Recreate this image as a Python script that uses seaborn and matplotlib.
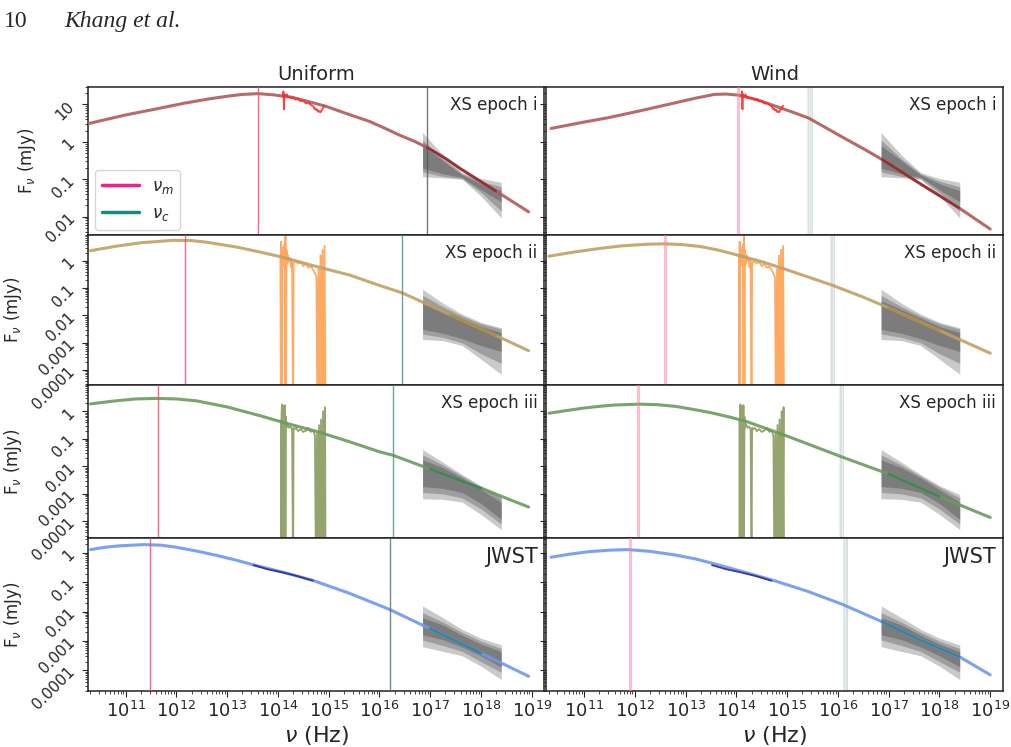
import numpy as np
import matplotlib.pyplot as plt
import seaborn as sns
from matplotlib.lines import Line2D
from matplotlib.ticker import FixedLocator, FixedFormatter, LogLocator, NullFormatter

sns.set_style('ticks')

# values: log10(nu / Hz), log10(F_nu / mJy)

# model SEDs, uniform (ISM) density
uniform_i_nu = [10.27, 11.0, 11.6, 12.14, 12.6, 13.0, 13.3, 13.61, 13.9, 14.29, 14.6, 14.95, 15.41, 15.8,
                16.1, 16.4, 16.7, 16.94, 17.3, 17.6, 18.29, 18.94]
uniform_i_flux = [0.49, 0.72, 0.88, 1.03, 1.14, 1.22, 1.27, 1.29, 1.26, 1.19, 1.08, 0.95, 0.73, 0.55,
                  0.37, 0.18, 0.01, -0.15, -0.44, -0.72, -1.31, -1.87]
uniform_ii_nu = [10.31, 10.8, 11.3, 11.94, 12.3, 12.6, 13.2, 13.65, 14.1, 14.7, 15.41, 16.0, 16.46, 17.4, 18.29, 18.94]
uniform_ii_flux = [0.37, 0.53, 0.66, 0.75, 0.74, 0.68, 0.5, 0.32, 0.13, -0.18, -0.52, -0.9, -1.18, -1.98, -2.73, -3.29]
uniform_iii_nu = [10.31, 10.8, 11.2, 11.62, 12.0, 12.4, 13.0, 13.65, 14.1, 14.8, 15.4, 16.0, 16.27, 17.0, 18.0, 18.94]
uniform_iii_flux = [0.27, 0.38, 0.45, 0.47, 0.45, 0.38, 0.16, -0.16, -0.4, -0.75, -1.1, -1.47, -1.6, -2.1, -2.8, -3.48]
uniform_jwst_nu = [10.31, 10.6, 10.9, 11.36, 11.7, 12.0, 12.4, 12.8, 13.2, 13.52, 14.1, 14.69, 15.41, 16.2,
                   17.0, 18.0, 18.94]
uniform_jwst_flux = [0.12, 0.2, 0.25, 0.29, 0.27, 0.2, 0.07, -0.08, -0.25, -0.4, -0.65, -0.93, -1.37, -1.92,
                     -2.58, -3.41, -4.2]

# model SEDs, wind density profile
wind_i_nu = [10.35, 11.0, 11.47, 12.1, 12.78, 13.2, 13.57, 13.8, 14.04, 14.4, 14.76, 15.1, 15.42, 15.8,
             16.1, 16.5, 16.87, 17.6, 18.38, 19.0]
wind_i_flux = [0.36, 0.53, 0.645, 0.83, 1.04, 1.17, 1.27, 1.28, 1.25, 1.13, 0.96, 0.8, 0.64, 0.35,
               0.12, -0.18, -0.47, -1.1, -1.76, -2.33]
wind_ii_nu = [10.31, 10.8, 11.3, 11.7, 12.0, 12.3, 12.6, 12.95, 13.3, 13.65, 14.0, 14.5, 15.0, 15.9,
              16.5, 17.0, 18.0, 19.0]
wind_ii_flux = [0.17, 0.32, 0.45, 0.54, 0.58, 0.61, 0.62, 0.59, 0.52, 0.39, 0.22, -0.03, -0.33, -0.9,
                -1.33, -1.72, -2.55, -3.38]
wind_iii_nu = [10.31, 10.7, 11.0, 11.3, 11.6, 12.1, 12.45, 12.8, 13.15, 13.5, 13.85, 14.2, 15.0, 16.08,
               17.0, 18.0, 19.0]
wind_iii_flux = [-0.07, 0.04, 0.12, 0.18, 0.23, 0.26, 0.24, 0.18, 0.07, -0.05, -0.2, -0.37, -0.9, -1.66,
                 -2.28, -3.1, -3.86]
wind_jwst_nu = [10.35, 10.7, 11.1, 11.5, 11.86, 12.3, 12.78, 13.2, 13.58, 14.1, 14.73, 15.4, 16.08,
                16.87, 17.6, 18.39, 19.0]
wind_jwst_flux = [-0.14, -0.04, 0.05, 0.1, 0.12, 0.06, -0.06, -0.2, -0.37, -0.62, -0.93, -1.3, -1.74,
                  -2.34, -2.95, -3.53, -4.15]

# break frequencies (log10 Hz)
uniform_num = [13.61, 12.18, 11.63, 11.48]
uniform_nuc = [16.94, 16.45, 16.27, 16.2]
wind_num = [14.04, 12.6, 12.07, 11.9]
wind_nuc = [15.45, 15.89, 16.07, 16.15]

# X-shooter spectra and JWST (-6 marks dropouts below the axis)
xs_i_nu = [14.10, 14.11, 14.12, 14.13, 14.15, 14.18, 14.2, 14.22, 14.26, 14.3, 14.35, 14.4, 14.45, 14.5,
           14.55, 14.6, 14.65, 14.7, 14.72, 14.74, 14.76, 14.78, 14.8, 14.82, 14.84, 14.86, 14.89, 14.92]
xs_i_flux = [1.22, 1.35, 0.87, 1.28, 1.22, 1.27, 1.19, 1.21, 1.17, 1.18, 1.13, 1.15, 1.09, 1.1,
             1.03, 1.05, 0.99, 0.95, 0.88, 0.9, 0.84, 0.86, 0.8, 0.82, 0.79, 0.84, 0.9, 0.97]
xs_ii_nu = [14.05, 14.06, 14.065, 14.07, 14.075, 14.08, 14.1, 14.12, 14.13, 14.14, 14.15, 14.16, 14.17,
            14.19, 14.2, 14.22, 14.24, 14.26, 14.28, 14.3, 14.31, 14.34, 14.4, 14.46, 14.5, 14.55, 14.6,
            14.65, 14.7, 14.74, 14.76, 14.78, 14.8, 14.82, 14.84, 14.86, 14.88, 14.9, 14.92, 14.94]
xs_ii_flux = [0.2, -6, 0.7, -0.3, -6, 0.5, 0.2, -0.2, 0.6, -6, 0.92, -6, 0.4,
              -0.1, 0.2, 0.0, 0.1, -0.25, 0.05, -6, -0.1, 0.0, -0.1, -0.05, -0.2, -0.1, -0.25,
              -0.2, -0.35, -0.5, -0.6, -6, -0.3, -6, 0.2, -6, 0.4, -6, 0.55, -6]
xs_iii_nu = [14.06, 14.065, 14.07, 14.08, 14.09, 14.1, 14.11, 14.12, 14.13, 14.14, 14.15, 14.16, 14.17,
             14.18, 14.2, 14.22, 14.25, 14.28, 14.3, 14.31, 14.33, 14.36, 14.4, 14.45, 14.5, 14.55, 14.6,
             14.65, 14.7, 14.73, 14.75, 14.77, 14.79, 14.81, 14.83, 14.85, 14.87, 14.89, 14.91, 14.93, 14.94]
xs_iii_flux = [-0.35, -6, -0.3, 0.25, -0.5, -6, 0.2, -0.55, -6, 0.22, -6, -0.2, -0.6,
               -0.45, -0.5, -0.6, -0.55, -0.65, -6, -0.6, -0.65, -0.6, -0.72, -0.65, -0.75, -0.7, -0.6,
               -0.75, -0.7, -0.9, -6, -0.8, -6, -0.5, -6, -0.3, -6, 0.0, -6, 0.15, -6]
jwst_nu = [13.52, 13.8, 14.1, 14.4, 14.69]
jwst_flux = [-0.41, -0.55, -0.66, -0.79, -0.94]

# X-ray butterflies: rows are (outer, middle, inner) contours
bowtie_nu = [16.85, 17.25, 17.63, 18.0, 18.4]
bowtie_i_hi = [[0.25, -0.35, -0.82, -0.98, -1.08], [0.05, -0.45, -0.85, -1.05, -1.2], [-0.1, -0.5, -0.88, -1.12, -1.3]]
bowtie_i_lo = [[-0.93, -0.96, -1.0, -1.45, -2.03], [-0.8, -0.92, -0.98, -1.35, -1.85], [-0.7, -0.85, -0.95, -1.28, -1.6]]
bowtie_ii_hi = [[-1.04, -1.55, -1.95, -2.25, -2.45], [-1.26, -1.68, -2.02, -2.3, -2.5], [-1.46, -1.78, -2.1, -2.4, -2.63]]
bowtie_ii_lo = [[-2.88, -2.92, -3.1, -3.6, -4.15], [-2.68, -2.8, -3.0, -3.4, -3.75], [-2.51, -2.65, -2.85, -3.1, -3.32]]
bowtie_iii_hi = [[-1.39, -1.85, -2.3, -2.7, -3.03], [-1.58, -1.95, -2.35, -2.75, -3.15], [-1.76, -2.05, -2.42, -2.85, -3.3]]
bowtie_iii_lo = [[-3.18, -3.2, -3.3, -3.75, -4.3], [-2.95, -3.0, -3.15, -3.55, -4.1], [-2.73, -2.8, -2.95, -3.35, -3.93]]
bowtie_jwst_hi = [[-1.8, -2.2, -2.6, -2.9, -3.13], [-2.03, -2.35, -2.7, -3.0, -3.25], [-2.2, -2.45, -2.8, -3.1, -3.36]]
bowtie_jwst_lo = [[-3.19, -3.35, -3.5, -3.85, -4.31], [-2.96, -3.15, -3.35, -3.7, -4.06], [-2.78, -2.95, -3.2, -3.5, -3.88]]

panel_labels = ['XS epoch i', 'XS epoch ii', 'XS epoch iii', 'JWST']
ytick_vals = [[10, 1, 0.1, 0.01], [1, 0.1, 0.01, 0.001, 0.0001],
              [1, 0.1, 0.01, 0.001, 0.0001], [1, 0.1, 0.01, 0.001, 0.0001]]
ytick_text = [['10', '1', '0.1', '0.01'], ['1', '0.1', '0.01', '0.001', '0.0001'],
              ['1', '0.1', '0.01', '0.001', '0.0001'], ['1', '0.1', '0.01', '0.001', '0.0001']]

# styling
ylims = [(3.3e-3, 30), (2.9e-5, 9), (2.5e-5, 9.2), (2e-5, 3.3)]
model_colors = ['#b05a5a', '#c1a065', '#6b9a5c', '#6e97f2']
data_colors = ['#ff2a2a', '#ffa152', '#8a9a5e', '#2c2a8c']
data_on_top = [True, False, False, True]
xray_colors = ['#8c1c1c', '#a8863a', '#2f7d5a', '#1c7f76']
nuc_colors = ['#555555', '#3f8f86', '#3f8f86', '#4f6f6a']

uniform_curves = [(uniform_i_nu, uniform_i_flux), (uniform_ii_nu, uniform_ii_flux),
                  (uniform_iii_nu, uniform_iii_flux), (uniform_jwst_nu, uniform_jwst_flux)]
wind_curves = [(wind_i_nu, wind_i_flux), (wind_ii_nu, wind_ii_flux),
               (wind_iii_nu, wind_iii_flux), (wind_jwst_nu, wind_jwst_flux)]
spectra = [(xs_i_nu, xs_i_flux), (xs_ii_nu, xs_ii_flux), (xs_iii_nu, xs_iii_flux), (jwst_nu, jwst_flux)]
bowties = [(bowtie_i_hi, bowtie_i_lo), (bowtie_ii_hi, bowtie_ii_lo),
           (bowtie_iii_hi, bowtie_iii_lo), (bowtie_jwst_hi, bowtie_jwst_lo)]


def line(ax, lognu, logf, **kw):
    sns.lineplot(x=10 ** np.asarray(lognu, float), y=10 ** np.asarray(logf, float),
                 ax=ax, sort=False, estimator=None, **kw)


fig = plt.figure(figsize=(10.11, 7.47), dpi=100)
gs = fig.add_gridspec(4, 2, left=0.087, right=0.992, top=0.884, bottom=0.075,
                      hspace=0, wspace=0.0045, height_ratios=[148, 150, 153, 153])
axes = [[None, None] for _ in range(4)]
for r in range(4):
    for c in range(2):
        kw = {}
        if r or c:
            kw['sharex'] = axes[0][0]
        if c == 1:
            kw['sharey'] = axes[r][0]
        axes[r][c] = fig.add_subplot(gs[r, c], **kw)

for r in range(4):
    for c in range(2):
        ax = axes[r][c]
        ax.set_xscale('log')
        ax.set_yscale('log')

        # butterfly
        hi, lo = bowties[r]
        bx = 10 ** np.array(bowtie_nu)
        for k in range(3):
            ax.fill_between(bx, 10 ** np.array(lo[k]), 10 ** np.array(hi[k]),
                            color='k', alpha=0.21, lw=0, zorder=1)

        # data
        snu, sfl = spectra[r]
        line(ax, snu, sfl, color=data_colors[r], lw=1.3, alpha=0.9,
             zorder=4.5 if data_on_top[r] else 2)

        # model
        mnu, mfl = (uniform_curves if c == 0 else wind_curves)[r]
        line(ax, mnu, mfl, color=model_colors[r], lw=2.2, alpha=0.9, zorder=3)
        sel = [i for i, v in enumerate(mnu) if bowtie_nu[0] <= v <= bowtie_nu[-1] + 0.05]
        line(ax, [mnu[i] for i in sel], [mfl[i] for i in sel], color=xray_colors[r],
             lw=1.8, alpha=0.7, zorder=4)

        # break frequencies
        if c == 0:
            ax.axvline(10 ** uniform_num[r], color='#ff3f6c', lw=1.0, alpha=0.8, zorder=5)
            ax.axvline(10 ** uniform_nuc[r], color=nuc_colors[r], lw=1.0, alpha=0.8, zorder=5)
        else:
            ax.axvline(10 ** wind_num[r], color='#ff7f98', lw=2.2, alpha=0.5, zorder=5)
            ax.axvspan(10 ** (wind_nuc[r] - 0.05), 10 ** (wind_nuc[r] + 0.05),
                       color='#c5d6d4', alpha=0.35, lw=0, zorder=0)
            for dx in (-0.035, 0.0, 0.035):
                ax.axvline(10 ** (wind_nuc[r] + dx), color='#9fb8b5', lw=0.6, alpha=0.3, zorder=0)

        ax.set_xlim(10 ** 10.26, 10 ** 19.25)
        ax.set_ylim(*ylims[r])
        ax.yaxis.set_major_locator(FixedLocator(ytick_vals[r]))
        ax.yaxis.set_major_formatter(FixedFormatter(ytick_text[r]))
        ax.yaxis.set_minor_locator(LogLocator(base=10, subs=np.arange(2, 10), numticks=20))
        ax.yaxis.set_minor_formatter(NullFormatter())
        ax.xaxis.set_major_locator(LogLocator(base=10, numticks=20))
        ax.xaxis.set_minor_locator(LogLocator(base=10, subs=np.arange(2, 10), numticks=20))
        ax.xaxis.set_minor_formatter(NullFormatter())
        ax.tick_params(axis='y', labelrotation=45, labelsize=11, length=4)
        ax.tick_params(axis='x', labelsize=13, length=4)
        ax.tick_params(which='minor', length=2)
        for s in ax.spines.values():
            s.set_linewidth(1.1)
            s.set_color('#222222')

        ax.text(0.985, 0.94, panel_labels[r], transform=ax.transAxes, ha='right', va='top',
                fontsize=15 if r == 3 else 12, zorder=6)

        if r < 3:
            ax.tick_params(axis='x', labelbottom=False)
        else:
            ax.set_xlabel(r'$\nu$ (Hz)', fontsize=16, labelpad=2)
        if c == 1:
            ax.tick_params(axis='y', labelleft=False)
            ax.set_ylabel('')
        else:
            ax.set_ylabel(r'F$_\nu$ (mJy)', fontsize=12)

axes[0][0].set_title('Uniform', fontsize=14, pad=5)
axes[0][1].set_title('Wind', fontsize=14, pad=5)

handles = [Line2D([], [], color='#f21f8c', lw=2.5), Line2D([], [], color='#1a8a80', lw=2.5)]
axes[0][0].legend(handles, [r'$\nu_m$', r'$\nu_c$'], loc='lower left', fontsize=12,
                  bbox_to_anchor=(0.005, 0.0), borderaxespad=0.3, handlelength=2.2)

fig.text(0.004, 0.985, '10', family='Liberation Serif', fontsize=17, va='top')
fig.text(0.064, 0.985, 'Khang et al.', family='Liberation Serif', style='italic', fontsize=17, va='top')

fig.savefig('out.png', dpi=100)
